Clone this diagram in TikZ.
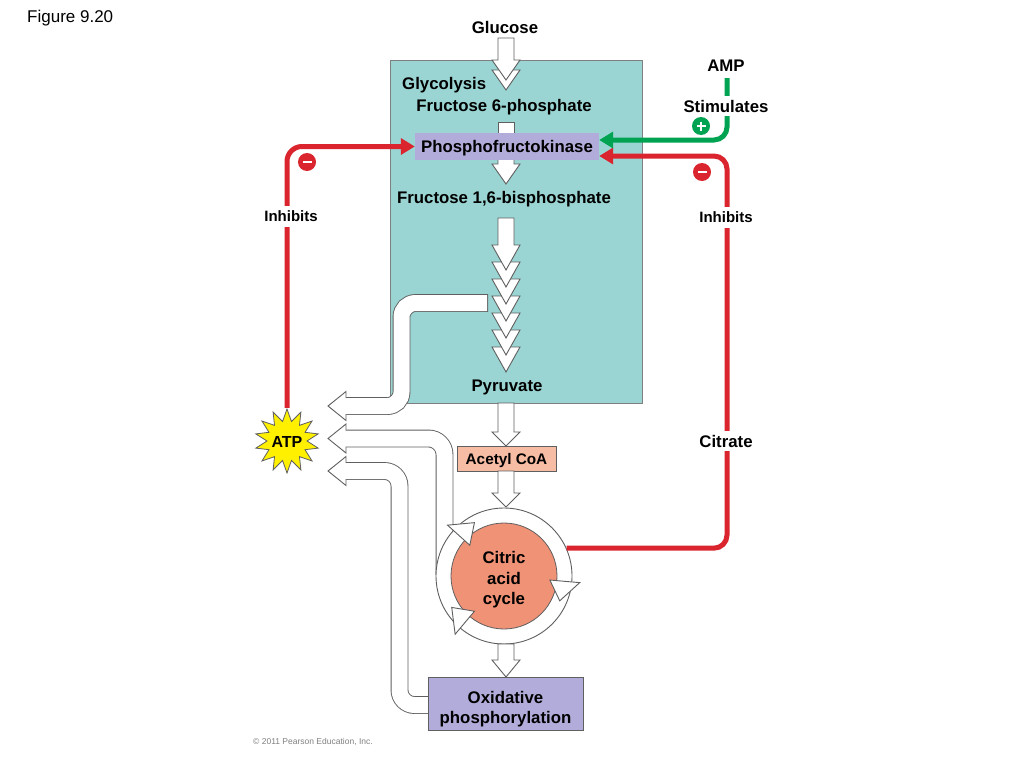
\documentclass[tikz,border=0pt]{standalone}
\usepackage{fontspec}
\setmainfont{Liberation Sans}
\usetikzlibrary{arrows.meta,shapes.geometric,calc}
\definecolor{boxteal}{RGB}{154,213,211}
\definecolor{lav}{RGB}{178,172,218}
\definecolor{acoafill}{RGB}{246,188,164}
\definecolor{cacfill}{RGB}{240,146,118}
\definecolor{myred}{RGB}{218,37,46}
\definecolor{mygreen}{RGB}{0,163,82}
\definecolor{agray}{RGB}{95,95,95}
\definecolor{staryellow}{RGB}{255,240,0}
\newcommand\vblk[4]{\draw[blk] (#1-8,#2) -- (#1+8,#2) -- (#1+8,#3) -- (#1+14,#3) -- (#1,#4) -- (#1-14,#3) -- (#1-8,#3) -- cycle;}
\newcommand\lhead[1]{\fill[white] (346,#1-14.5) -- (328,#1) -- (346,#1+14.5) -- cycle;
  \draw[blkline] (346,#1-8) -- (346,#1-14.5) -- (328,#1) -- (346,#1+14.5) -- (346,#1+8);}
\begin{document}
\begin{tikzpicture}[x=1pt,y=-1pt,
  lbl/.style={font=\bfseries\fontsize{16.8}{20.5}\selectfont, inner sep=2pt, text height=12pt, text depth=0pt},
  lblsm/.style={font=\bfseries\fontsize{15}{18}\selectfont, inner sep=3pt, text height=11pt, text depth=0pt},
  mlbl/.style={font=\bfseries\fontsize{16.8}{20.5}\selectfont, align=center},
  blk/.style={draw=agray, fill=white, line width=0.9pt, line join=miter},
  blkline/.style={draw=agray, line width=0.9pt, line join=miter},
  bandout/.style={draw=agray, line width=17.8pt},
  bandin/.style={draw=white, line width=16pt},
  redline/.style={draw=myred, line width=5pt, -{Triangle[length=14pt,width=16pt]}},
  greenline/.style={draw=mygreen, line width=5pt, -{Triangle[length=14pt,width=16pt]}},
  sign/.style={circle, minimum size=18pt, inner sep=0pt},
  signbar/.style={draw=white, line width=2.2pt}
]
\fill[white] (0,0) rectangle (1024,768);
\useasboundingbox (0,0) rectangle (1024,768);

% glycolysis box
\node[draw=agray!80, fill=boxteal, line width=0.8pt, minimum width=252pt, minimum height=343pt, inner sep=0pt] (glybox) at (516,231.5) {};

% glucose arrow
\draw[blk] (492,70) -- (520,70) -- (506,90) -- cycle;
\vblk{506}{38}{60}{80}

% PFK arrows and box
\draw[blk] (498,122) rectangle (514,140);
\vblk{506}{155}{164}{184}
\node[fill=lav, minimum width=184pt, minimum height=27pt, inner sep=0pt, lbl] (pfk) at (507,146.5) {Phosphofructokinase};

% chain of glycolysis steps
\foreach \k in {6,5,...,1} {
  \draw[blk] (492,245+17*\k) -- (520,245+17*\k) -- (506,270+17*\k) -- cycle;
}
\vblk{506}{218}{245}{270}

% ATP arrow from glycolysis
\draw[bandout, rounded corners=14pt] (345,406) -- (401.5,406) -- (401.5,303) -- (488,303);
\draw[bandin, rounded corners=14pt] (344,406) -- (401.5,406) -- (401.5,303) -- (487,303);

% pyruvate -> acetyl CoA
\vblk{506}{403}{432}{446}
\node[draw=agray, fill=acoafill, line width=0.8pt, minimum width=99pt, minimum height=25pt, inner sep=0pt, font=\bfseries\fontsize{15.3}{18}\selectfont, text height=11pt, text depth=0pt] (acoa) at (506.5,458.5) {Acetyl CoA};

% ATP arrows from citric acid cycle and oxidative phosphorylation
\draw[bandout, rounded corners=16pt] (345,438.5) -- (444.5,438.5) -- (444.5,575);
\draw[bandin, rounded corners=16pt] (344,438.5) -- (444.5,438.5) -- (444.5,576);
\draw[bandout, rounded corners=15pt] (345,471) -- (399.5,471) -- (399.5,705) -- (432,705);
\draw[bandin, rounded corners=15pt] (344,471) -- (399.5,471) -- (399.5,705) -- (432,705);
\lhead{406}
\lhead{438.5}
\lhead{471}

% citric acid cycle
\node[circle, draw=agray, fill=white, line width=0.9pt, minimum size=136pt, inner sep=0pt] (ring) at (504,576) {};
\node[circle, draw=agray, fill=cacfill, line width=0.8pt, minimum size=106pt, inner sep=0pt] (cac) at (504,576) {};
\foreach \b/\t in {138/119, 355/336, 230/211} {
  \draw[blk] ($(ring.center)+(-\b:76)$) -- ($(ring.center)+(-\t:61)$) -- ($(ring.center)+(-\b:46)$) -- cycle;
}
\node[mlbl] (cactext) at (504,580) {Citric\\acid\\cycle};

% acetyl CoA -> cycle -> oxidative phosphorylation
\vblk{506}{471}{493}{507}
\vblk{506}{644}{660}{677}
\node[draw=agray, fill=lav, line width=0.8pt, minimum width=155pt, minimum height=53pt, inner sep=0pt] (oxp) at (505.5,703.5) {};
\node[mlbl] (oxptext) at (505.5,709) {Oxidative\\phosphorylation};

% ATP star
\node[star, star points=14, star point ratio=1.6, minimum size=64pt, inner sep=0pt, draw=agray, fill=staryellow, line width=0.8pt] (atpstar) at (287,441) {};
\node[lbl, font=\bfseries\fontsize{16}{19}\selectfont] (atp) at (atpstar.center) {ATP};

% regulation lines
\coordinate (gy) at (700,140);
\coordinate (rc) at (727,156);
\coordinate (ampbot) at (727,78);
\draw[redline, rounded corners=15pt] (atpstar.north) |- (pfk.west);
\draw[redline, rounded corners=13pt] (ring.24) -| (rc) -- (pfk.east |- rc);
\draw[greenline, rounded corners=13pt] (ampbot) |- (pfk.east |- gy);

% labels
\node[lbl] (glucose) at (505,28) {Glucose};
\node[lbl, anchor=west] (glyco) at (400,83) {Glycolysis};
\node[lbl] (f6p) at (504,105) {Fructose 6-phosphate};
\node[lbl] (f16) at (504,197) {Fructose 1,6-bisphosphate};
\node[lbl] (pyr) at (507,385) {Pyruvate};
\node[lbl] (amp) at (726,65) {AMP};
\node[lbl, fill=white, inner sep=4pt] (stim) at (726,106) {Stimulates};
\node[lblsm, fill=white, inner sep=5pt] (inhr) at (726,217) {Inhibits};
\node[lblsm, fill=white, inner sep=5pt] (inhl) at (291,216) {Inhibits};
\node[lbl, fill=white, inner sep=4pt] (citrate) at (726,441) {Citrate};

% plus / minus signs
\node[sign, fill=mygreen] (plus) at (701,126) {};
\draw[signbar] ($(plus)+(-4.5,0)$) -- ($(plus)+(4.5,0)$);
\draw[signbar] ($(plus)+(0,-4.5)$) -- ($(plus)+(0,4.5)$);
\node[sign, fill=myred] (minr) at (702,172) {};
\draw[signbar] ($(minr)+(-4.5,0)$) -- ($(minr)+(4.5,0)$);
\node[sign, fill=myred] (minl) at (307,162) {};
\draw[signbar] ($(minl)+(-4.5,0)$) -- ($(minl)+(4.5,0)$);

% figure title and credit
\node[anchor=west, font=\fontsize{17}{20}\selectfont, text height=12pt, text depth=0pt, inner sep=0pt] (fig) at (27,17) {Figure 9.20};
\node[anchor=west, font=\fontsize{8.5}{10}\selectfont, text=gray, inner sep=0pt] (copy) at (253,742) {\textcopyright{} 2011 Pearson Education, Inc.};
\end{tikzpicture}
\end{document}
